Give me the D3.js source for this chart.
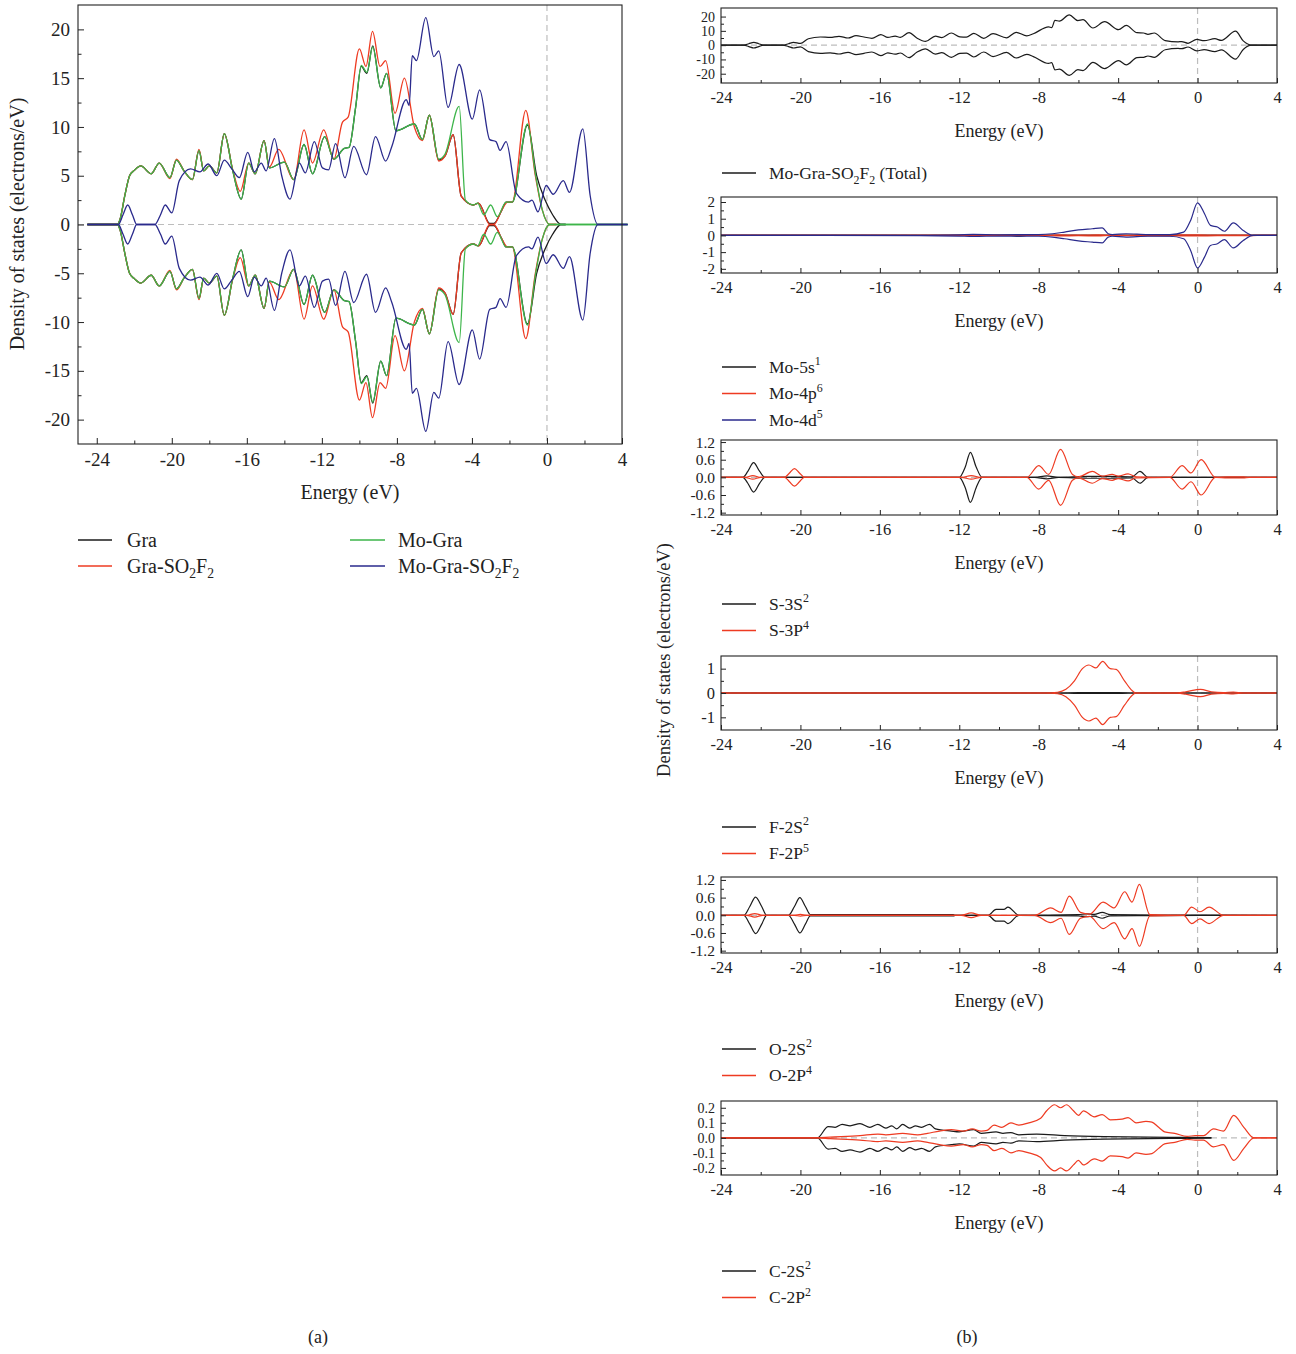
<!DOCTYPE html>
<html lang="en">
<head>
<meta charset="UTF-8">
<title>Density of states: Gra / Mo-Gra / SO2F2</title>
<script src="https://d3js.org/d3.v7.min.js"></script>
<style>
  html, body { margin: 0; padding: 0; background: #fff; }
  svg text { font-family: "Liberation Serif", "Times New Roman", serif; fill: #222; }
</style>
</head>
<body>
<svg id="chart" width="1296" height="1354"></svg>
<script>
// ---- data: [energy (eV), spin-up DOS]; spin-down is drawn as the mirror (-DOS) ----

// panel (a)
const moGra = [[-24.5,0],[-22.9,0],[-22.75,0.6],[-22.5,3.0],[-22.25,5.0],[-22.0,5.55],[-21.65,6.0],[-21.1,5.2],[-20.67,6.3],[-20.1,4.8],[-19.75,6.6],[-19.35,5.5],[-18.9,4.6],[-18.55,7.6],[-18.3,5.5],[-18.0,6.0],[-17.6,5.3],[-17.2,9.3],[-16.75,5.5],[-16.3,2.6],[-15.9,6.3],[-15.55,5.2],[-15.08,8.6],[-14.8,5.8],[-14.0,6.4],[-13.5,4.6],[-12.95,8.2],[-12.5,5.2],[-11.85,9.0],[-11.36,6.7],[-10.8,7.8],[-10.55,7.9],[-10.2,12.0],[-9.9,16.3],[-9.6,15.6],[-9.29,18.2],[-8.86,14.0],[-8.55,15.5],[-8.05,9.6],[-7.07,10.3],[-6.64,8.7],[-6.27,11.2],[-5.77,6.7],[-5.44,7.2],[-4.68,12.1],[-4.35,2.5],[-3.92,2.0],[-3.7,2.2],[-3.37,1.0],[-3.0,2.0],[-2.65,0.8],[-2.18,2.3],[-1.85,2.3],[-1.04,10.3],[-0.6,5.0],[-0.25,1.5],[0.15,0],[4.3,0]];
const gra = [[-24.5,0],[-22.9,0],[-22.75,0.6],[-22.5,3.0],[-22.25,5.0],[-22.0,5.55],[-21.65,6.0],[-21.1,5.2],[-20.67,6.3],[-20.1,4.8],[-19.75,6.6],[-19.35,5.5],[-18.9,4.6],[-18.55,7.6],[-18.3,5.5],[-18.0,6.0],[-17.6,5.3],[-17.2,9.3],[-16.75,5.5],[-16.3,2.6],[-15.9,6.3],[-15.55,5.2],[-15.08,8.6],[-14.8,5.8],[-14.0,6.4],[-13.5,4.6],[-12.95,8.2],[-12.5,5.2],[-11.85,9.0],[-11.36,6.7],[-10.8,7.8],[-10.55,7.9],[-10.2,12.0],[-9.9,16.2],[-9.6,15.5],[-9.29,18.3],[-8.86,14.0],[-8.55,15.5],[-8.05,9.6],[-7.07,10.3],[-6.64,8.7],[-6.27,11.2],[-5.77,6.6],[-5.44,7.0],[-5.0,9.2],[-4.57,2.9],[-3.92,2.0],[-3.65,2.2],[-3.05,0.1],[-2.83,0.1],[-2.4,1.5],[-2.18,2.3],[-1.85,2.3],[-1.04,10.2],[-0.55,5.0],[-0.1,2.5],[0.3,1.0],[0.75,0],[1.0,0]];
const graSO2F2 = [[-24.5,0],[-22.9,0],[-22.75,0.6],[-22.5,3.0],[-22.25,5.0],[-22.0,5.55],[-21.65,6.0],[-21.1,5.2],[-20.67,6.3],[-20.1,4.7],[-19.75,6.7],[-19.35,5.5],[-18.9,4.6],[-18.55,7.7],[-18.3,5.5],[-18.0,6.0],[-17.6,5.3],[-17.2,9.3],[-16.75,5.6],[-16.35,3.4],[-15.9,6.3],[-15.55,5.2],[-15.08,8.6],[-14.8,5.9],[-14.3,7.7],[-13.5,4.6],[-12.95,9.7],[-12.5,6.3],[-11.9,9.7],[-11.36,6.7],[-10.9,10.5],[-10.6,11.0],[-10.0,18.0],[-9.65,16.2],[-9.3,19.8],[-8.9,16.2],[-8.6,16.8],[-8.1,11.4],[-7.6,15.0],[-7.07,10.0],[-6.64,8.6],[-6.27,11.2],[-5.77,6.5],[-5.44,7.0],[-5.0,9.2],[-4.57,2.9],[-3.92,2.0],[-3.65,2.2],[-3.05,0],[-2.83,0],[-2.4,1.5],[-2.1,2.3],[-1.85,2.3],[-1.13,11.7],[-0.62,5.0],[-0.25,1.5],[0.15,0],[0.5,0]];
const moGraSO2F2 = [[-24.5,0],[-22.85,0],[-22.6,1.0],[-22.35,2.0],[-22.1,1.0],[-21.87,0],[-20.9,0],[-20.6,1.0],[-20.35,2.0],[-20.0,1.2],[-19.6,4.5],[-19.0,5.7],[-18.5,5.4],[-18.06,6.2],[-17.6,5.0],[-17.2,6.6],[-16.8,5.7],[-16.4,4.8],[-15.95,7.4],[-15.6,5.4],[-15.23,6.3],[-14.97,5.5],[-14.53,8.8],[-14.14,5.0],[-13.7,2.6],[-13.2,6.3],[-12.88,5.3],[-12.4,8.5],[-11.97,5.8],[-11.64,5.6],[-11.27,8.3],[-10.77,4.8],[-10.3,8.0],[-9.62,5.1],[-9.14,9.0],[-8.6,6.5],[-8.27,8.0],[-7.5,12.8],[-7.35,12.2],[-7.18,17.3],[-6.96,16.8],[-6.46,21.2],[-6.03,17.2],[-5.77,17.8],[-5.27,12.0],[-4.68,16.4],[-3.98,10.8],[-3.59,13.8],[-3.05,8.7],[-2.72,8.5],[-2.5,7.6],[-2.18,8.5],[-1.63,3.2],[-0.98,2.3],[-0.8,2.5],[-0.48,1.3],[-0.04,4.0],[0.33,3.1],[0.87,4.5],[1.2,3.3],[1.91,9.8],[2.3,3.0],[2.72,0],[4.3,0]];

// panel (b)
const total = moGraSO2F2.map(([e, v]) => [Math.min(Math.max(e, -24), 4), v]);
const mo5s = [[-24,0],[-9.4,0],[-9.0,0.05],[-8.6,0],[4,0]];
const mo4p = [[-24,0],[-7.5,0],[-7.0,0.03],[-6,0.02],[-5,0.03],[-4.4,0],[-3,0.02],[-1,0.03],[0,0.03],[1,0.02],[2.5,0.02],[3,0],[4,0]];
const mo4d = [[-24,0],[-14,0.01],[-12,0.04],[-11.3,0.06],[-10,0.04],[-8,0.05],[-7.3,0.1],[-6.7,0.2],[-6.0,0.33],[-5.3,0.4],[-4.8,0.45],[-4.5,0.1],[-4.3,0.05],[-3.6,0.1],[-2.5,0.05],[-1.4,0.05],[-0.7,0.2],[-0.35,0.9],[0.0,1.95],[0.35,1.3],[0.65,0.6],[1.0,0.5],[1.35,0.25],[1.8,0.75],[2.3,0.3],[2.8,0],[4,0]];
const s3s = [[-24,0],[-22.9,0],[-22.65,0.2],[-22.36,0.5],[-22.05,0.2],[-21.8,0],[-12.0,0],[-11.7,0.35],[-11.44,0.85],[-11.15,0.35],[-10.85,0],[-8.2,0],[-7.6,0.05],[-7.0,0],[-5.5,0.03],[-4.5,0.03],[-3.3,0.02],[-2.9,0.2],[-2.5,0],[4,0]];
const s3p = [[-24,0],[-22.8,0],[-22.4,0.06],[-22.0,0],[-20.8,0],[-20.55,0.15],[-20.3,0.3],[-20.05,0.15],[-19.8,0],[-11.9,0],[-11.4,0.06],[-10.9,0],[-8.6,0],[-8.0,0.4],[-7.5,0.1],[-6.9,0.95],[-6.3,0.1],[-6.0,0.02],[-5.3,0.2],[-4.8,0.04],[-4.3,0.1],[-4.0,0.04],[-3.5,0.12],[-3.1,0.02],[-1.4,0],[-0.78,0.4],[-0.33,0.15],[0.18,0.6],[0.9,0],[1.5,0.02],[2.3,0.02],[2.6,0],[4,0]];
const f2s = [[-24,0],[-7,0],[-6,0.02],[-4,0.02],[-3,0],[4,0]];
const f2p = [[-24,0],[-7.7,0],[-7.05,0.03],[-6.63,0.15],[-6.2,0.5],[-5.8,1.0],[-5.47,1.15],[-5.12,1.03],[-4.78,1.3],[-4.4,1.0],[-4.1,0.97],[-3.68,0.5],[-3.3,0.1],[-3.1,0],[-1,0.01],[-0.6,0.05],[0.15,0.15],[0.7,0.05],[1.3,0.02],[1.8,0.04],[2.3,0],[4,0]];
const o2s = [[-24,0],[-22.85,0],[-22.55,0.3],[-22.26,0.62],[-21.95,0.3],[-21.7,0],[-20.6,0],[-20.3,0.3],[-20.03,0.6],[-19.75,0.3],[-19.5,0.02],[-12.3,0.02],[-12.2,0],[-10.55,0],[-10.15,0.2],[-9.75,0.2],[-9.55,0.28],[-9.0,0],[-6,0.02],[-5.6,0.05],[-5.2,0.03],[-4.8,0.1],[-4.4,0.02],[-2,0.01],[4,0]];
const o2p = [[-24,0],[-22.7,0],[-22.3,0.06],[-21.9,0],[-20.3,0],[-20.0,0.03],[-19.7,0],[-11.9,0],[-11.4,0.08],[-10.9,0],[-8.2,0],[-7.4,0.25],[-6.87,0.1],[-6.46,0.65],[-5.9,0.1],[-5.44,0.04],[-4.76,0.45],[-4.2,0.25],[-3.67,0.8],[-3.3,0.45],[-2.93,1.05],[-2.4,0.02],[-0.7,0],[-0.3,0.28],[0.12,0.12],[0.58,0.28],[1.3,0],[4,0]];
const c2s = [[-24,0],[-19.15,0],[-18.6,0.075],[-18.25,0.07],[-17.9,0.09],[-17.5,0.08],[-17.0,0.095],[-16.5,0.07],[-16.1,0.09],[-15.7,0.065],[-15.4,0.08],[-15.15,0.06],[-14.85,0.09],[-14.5,0.065],[-14.2,0.08],[-13.9,0.07],[-13.5,0.09],[-13.2,0.06],[-12.4,0.045],[-12.0,0.04],[-11.27,0.055],[-10.9,0.03],[-10.15,0.04],[-9.8,0.03],[-9.4,0.035],[-9.0,0.02],[-8.1,0.025],[-6.7,0.015],[-4.7,0.008],[-0.5,0.003],[0.7,0.002]];
const c2p = [[-24,0],[-19.2,0],[-18.5,0.005],[-17,0.015],[-16.1,0.025],[-15.7,0.02],[-14.85,0.03],[-14.1,0.02],[-13.6,0.03],[-13.0,0.045],[-12.4,0.055],[-11.8,0.045],[-11.35,0.06],[-10.9,0.045],[-10.6,0.05],[-10.25,0.085],[-9.85,0.07],[-9.4,0.1],[-9.0,0.085],[-8.5,0.1],[-7.9,0.13],[-7.6,0.18],[-7.2,0.22],[-6.9,0.2],[-6.6,0.22],[-6.25,0.18],[-6.0,0.15],[-5.75,0.18],[-5.2,0.14],[-4.8,0.155],[-4.4,0.12],[-3.8,0.125],[-3.5,0.135],[-3.1,0.1],[-2.6,0.11],[-2.3,0.105],[-1.96,0.07],[-1.66,0.04],[-1.15,0.03],[-0.53,0.01],[-0.12,0.015],[0.3,0.015],[0.8,0.06],[1.3,0.045],[1.82,0.15],[2.33,0.07],[2.84,0],[4,0]];

// ticks
const xTicksA = [-24,-20,-16,-12,-8,-4,0,4];
const xMinorA = [-22,-18,-14,-10,-6,-2,2];
const yTicksA = [-20,-15,-10,-5,0,5,10,15,20];
const yMinorA = [-17.5,-12.5,-7.5,-2.5,2.5,7.5,12.5,17.5];

const BLACK = "#1b1b1b", RED = "#ee3b22", GREEN = "#3db54a", BLUE = "#2a2a8c";
const svg = d3.select("#chart");

function fmt(d) { return v => (v < 0 ? "-" : "") + Math.abs(v).toFixed(d); }

// text with ^x superscript and _x subscript
function rich(sel, s, fs) {
  let shift = 0;
  const parts = [];
  let buf = "";
  for (let i = 0; i < s.length; i++) {
    const c = s[i];
    if ((c === "^" || c === "_") && i + 1 < s.length) {
      if (buf) parts.push({t: buf, k: "n"});
      buf = "";
      parts.push({t: s[i + 1], k: c === "^" ? "sup" : "sub"});
      i++;
    } else buf += c;
  }
  if (buf) parts.push({t: buf, k: "n"});
  parts.forEach(p => {
    const target = p.k === "sup" ? -fs * 0.42 : p.k === "sub" ? fs * 0.28 : 0;
    sel.append("tspan")
      .attr("dy", target - shift)
      .attr("font-size", p.k === "n" ? fs : fs * 0.68)
      .text(p.t);
    shift = target;
  });
}

function legend(x1, x2, tx, y, color, label, fs) {
  svg.append("line").attr("x1", x1).attr("x2", x2).attr("y1", y).attr("y2", y)
    .attr("stroke", color).attr("stroke-width", 1.3);
  const t = svg.append("text").attr("x", tx).attr("y", y + fs * 0.33).attr("font-size", fs);
  rich(t, label, fs);
}

function drawPanel(p) {
  const x = d3.scaleLinear().domain(p.xDomain).range([p.left, p.right]);
  const y = d3.scaleLinear().domain(p.yDomain).range([p.bottom, p.top]);
  const g = svg.append("g");

  g.append("line").attr("x1", p.left).attr("x2", p.right).attr("y1", y(0)).attr("y2", y(0))
    .attr("stroke", "#bdbdbd").attr("stroke-width", 1.2).attr("stroke-dasharray", "6,4");
  g.append("line").attr("x1", x(0)).attr("x2", x(0)).attr("y1", p.top).attr("y2", p.bottom)
    .attr("stroke", "#bdbdbd").attr("stroke-width", 1.2).attr("stroke-dasharray", "6,4");

  const line = d3.line().x(d => x(d[0])).y(d => y(d[1])).curve(d3.curveMonotoneX);
  p.series.forEach(s => {
    [1, -1].forEach(sign => {
      g.append("path")
        .attr("d", line(s.data.map(([e, v]) => [e, sign * v])))
        .attr("fill", "none").attr("stroke", s.color).attr("stroke-width", p.lw)
        .attr("stroke-linejoin", "round");
    });
  });

  g.append("rect").attr("x", p.left).attr("y", p.top)
    .attr("width", p.right - p.left).attr("height", p.bottom - p.top)
    .attr("fill", "none").attr("stroke", "#222").attr("stroke-width", 1.1);

  const style = fs => a => {
    a.select(".domain").remove();
    a.selectAll("line").attr("stroke", "#222");
    a.selectAll("text").attr("font-size", fs).attr("fill", "#222")
      .attr("font-family", "'Liberation Serif', 'Times New Roman', serif");
  };
  g.append("g").attr("transform", `translate(0,${p.bottom})`)
    .call(d3.axisBottom(x).tickValues(p.xTicks).tickSize(-p.major).tickPadding(p.xPad).tickFormat(fmt(0)))
    .call(style(p.tickFs));
  g.append("g").attr("transform", `translate(0,${p.bottom})`)
    .call(d3.axisBottom(x).tickValues(p.xMinor).tickSize(-p.minor).tickFormat(""))
    .call(style(p.tickFs));
  g.append("g").attr("transform", `translate(${p.left},0)`)
    .call(d3.axisLeft(y).tickValues(p.yTicks).tickSize(-p.major).tickPadding(p.yPad).tickFormat(fmt(p.yDigits)))
    .call(style(p.yTickFs || p.tickFs));
  g.append("g").attr("transform", `translate(${p.left},0)`)
    .call(d3.axisLeft(y).tickValues(p.yMinor).tickSize(-p.minor).tickFormat(""))
    .call(style(p.tickFs));

  svg.append("text").attr("x", (p.left + p.right) / 2).attr("y", p.xLabelY)
    .attr("text-anchor", "middle").attr("font-size", p.labelFs).text("Energy (eV)");
}

// ---- panel (a) ----
drawPanel({
  left: 78, right: 622, top: 5, bottom: 444,
  xDomain: [-25, 4], yDomain: [-22.5, 22.5],
  xTicks: xTicksA, xMinor: xMinorA, yTicks: yTicksA, yMinor: yMinorA, yDigits: 0,
  major: 6, minor: 3.5, xPad: 9, yPad: 8, tickFs: 19, labelFs: 20, xLabelY: 499, lw: 1.3,
  series: [
    {data: gra, color: BLACK},
    {data: graSO2F2, color: RED},
    {data: moGra, color: GREEN},
    {data: moGraSO2F2, color: BLUE}
  ]
});
svg.append("text").attr("transform", "translate(24,224) rotate(-90)")
  .attr("text-anchor", "middle").attr("font-size", 20).text("Density of states (electrons/eV)");
legend(78, 112, 127, 540, BLACK, "Gra", 20);
legend(78, 112, 127, 566, RED, "Gra-SO_2F_2", 20);
legend(350, 385, 398, 540, GREEN, "Mo-Gra", 20);
legend(350, 385, 398, 566, BLUE, "Mo-Gra-SO_2F_2", 20);

// ---- panel (b) ----
const xTicksB = [-24,-20,-16,-12,-8,-4,0,4];
const xMinorB = [-22,-18,-14,-10,-6,-2,2];
const subPanels = [
  {top: 8, bottom: 83, yDomain: [-26.5, 26], yTicks: [-20,-10,0,10,20], yMinor: [-15,-5,5,15], yDigits: 0, yTickFs: 14,
   series: [{data: total, color: BLACK}],
   legends: [["Mo-Gra-SO_2F_2 (Total)", BLACK]], legendY: 173},
  {top: 197, bottom: 273, yDomain: [-2.25, 2.3], yTicks: [-2,-1,0,1,2], yMinor: [-1.5,-0.5,0.5,1.5], yDigits: 0, yTickFs: 15,
   series: [{data: mo5s, color: BLACK}, {data: mo4p, color: RED}, {data: mo4d, color: BLUE}],
   legends: [["Mo-5s^1", BLACK], ["Mo-4p^6", RED], ["Mo-4d^5", BLUE]], legendY: 367},
  {top: 440, bottom: 515, yDomain: [-1.28, 1.27], yTicks: [-1.2,-0.6,0,0.6,1.2], yMinor: [-0.9,-0.3,0.3,0.9], yDigits: 1, yTickFs: 15.5,
   series: [{data: s3s, color: BLACK}, {data: s3p, color: RED}],
   legends: [["S-3S^2", BLACK], ["S-3P^4", RED]], legendY: 604},
  {top: 656, bottom: 730, yDomain: [-1.52, 1.52], yTicks: [-1,0,1], yMinor: [-0.5,0.5], yDigits: 0,
   series: [{data: f2s, color: BLACK}, {data: f2p, color: RED}],
   legends: [["F-2S^2", BLACK], ["F-2P^5", RED]], legendY: 827},
  {top: 877, bottom: 953, yDomain: [-1.28, 1.3], yTicks: [-1.2,-0.6,0,0.6,1.2], yMinor: [-0.9,-0.3,0.3,0.9], yDigits: 1, yTickFs: 15.5,
   series: [{data: o2s, color: BLACK}, {data: o2p, color: RED}],
   legends: [["O-2S^2", BLACK], ["O-2P^4", RED]], legendY: 1049},
  {top: 1101, bottom: 1175, yDomain: [-0.247, 0.245], yTicks: [-0.2,-0.1,0,0.1,0.2], yMinor: [-0.15,-0.05,0.05,0.15], yDigits: 1, yTickFs: 14,
   series: [{data: c2s, color: BLACK}, {data: c2p, color: RED}],
   legends: [["C-2S^2", BLACK], ["C-2P^2", RED]], legendY: 1271}
];

subPanels.forEach(sp => {
  drawPanel(Object.assign({
    left: 721, right: 1277, xDomain: [-24, 4],
    xTicks: xTicksB, xMinor: xMinorB,
    major: 5, minor: 3, xPad: 8, yPad: 6, tickFs: 16.5, labelFs: 18,
    xLabelY: sp.bottom + 54, lw: 1.2
  }, sp));
  sp.legends.forEach(([label, color], i) => {
    legend(722, 756, 769, sp.legendY + i * 26.5, color, label, 17.5);
  });
});
svg.append("text").attr("transform", "translate(670,660) rotate(-90)")
  .attr("text-anchor", "middle").attr("font-size", 18.5).text("Density of states (electrons/eV)");

// captions
svg.append("text").attr("x", 318).attr("y", 1343).attr("text-anchor", "middle").attr("font-size", 18).text("(a)");
svg.append("text").attr("x", 967).attr("y", 1343).attr("text-anchor", "middle").attr("font-size", 18).text("(b)");
</script>
</body>
</html>
